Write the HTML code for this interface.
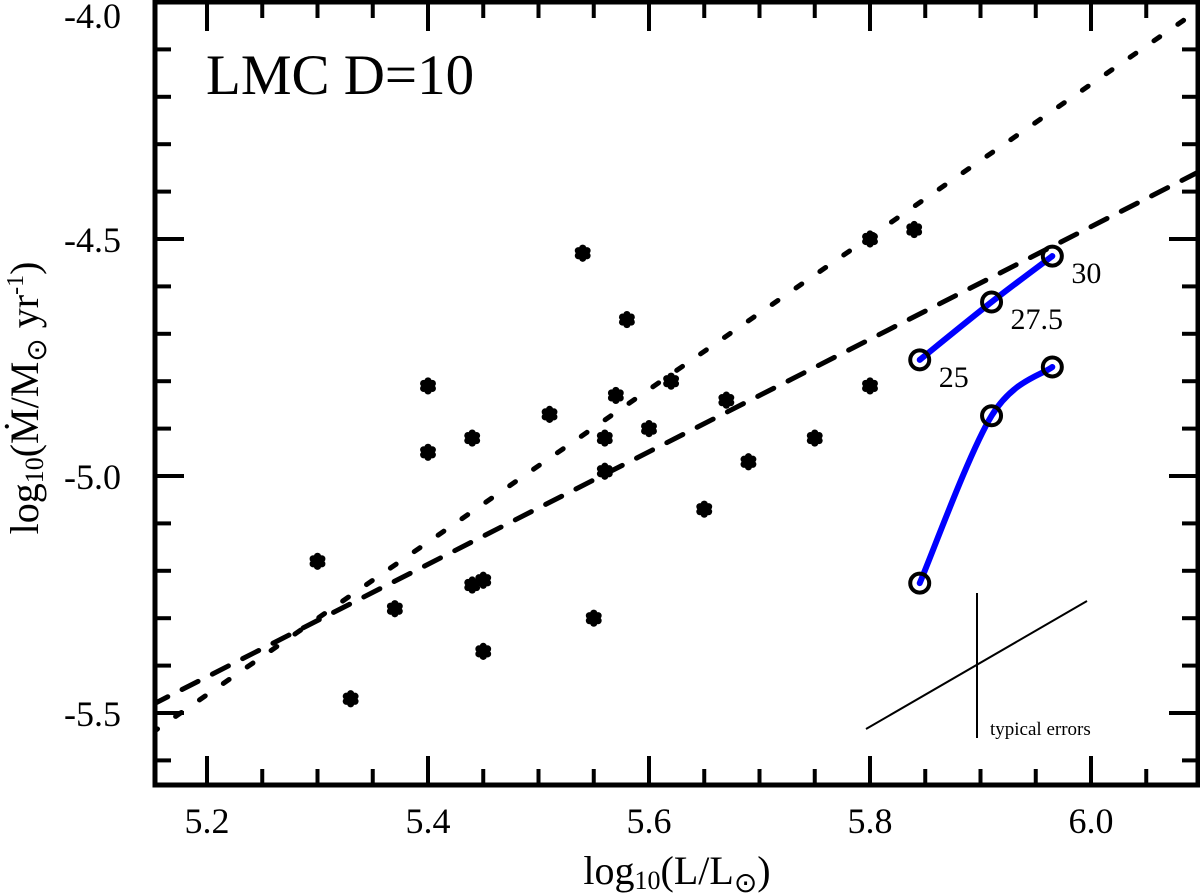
<!DOCTYPE html>
<html><head><meta charset="utf-8"><style>
html,body{margin:0;padding:0;background:#fff;}
svg{display:block;font-family:"Liberation Serif",serif;}
</style></head><body>
<svg id="c" width="1200" height="894" viewBox="0 0 1200 894"></svg>
<script>
const xTicks=[5.2,5.4,5.6,5.8,6.0];
const xTickLabels=["5.2","5.4","5.6","5.8","6.0"];
const yTicks=[-4.0,-4.5,-5.0,-5.5];
const yTickLabels=["-4.0","-4.5","-5.0","-5.5"];
const starL=[5.30,5.33,5.37,5.40,5.40,5.44,5.44,5.45,5.45,5.51,5.54,5.55,5.56,5.56,5.57,5.58,5.60,5.62,5.65,5.67,5.69,5.75,5.80,5.80,5.84];
const starM=[-5.18,-5.47,-5.28,-4.81,-4.95,-4.92,-5.23,-5.22,-5.37,-4.87,-4.53,-5.30,-4.92,-4.99,-4.83,-4.67,-4.90,-4.80,-5.07,-4.84,-4.97,-4.92,-4.81,-4.50,-4.48];
const modelL=[5.845,5.91,5.965];
const modelUpper=[-4.755,-4.633,-4.536];
const modelLower=[-5.226,-4.873,-4.770];
const modelLabels=["25","27.5","30"];
const dottedFit=[-5.542,1.61];
const dashedFit=[-5.483,1.187];

const L=155,R=1198,T=2,B=785;
const X=v=>207+(v-5.2)*1105;
const Y=v=>2+(-4.0-v)*474;
const xmin=5.15,xmax=(R-207)/1105+5.2,ymax=-4.0,ymin=-4.0-(B-2)/474;
const svg=document.getElementById('c');
const NS='http://www.w3.org/2000/svg';
function mk(tag,attrs,parent){const e=document.createElementNS(NS,tag);for(const k in attrs)e.setAttribute(k,attrs[k]);(parent||svg).appendChild(e);return e;}

const defs=mk('defs',{});
const cp=mk('clipPath',{id:'clip'},defs);
mk('rect',{x:L,y:T,width:R-L,height:B-T},cp);

function fitLine(f,dash,name){
  const l=mk('line',{x1:X(xmin),y1:Y(f[0]+f[1]*(xmin-5.15)),x2:X(xmax),y2:Y(f[0]+f[1]*(xmax-5.15)),stroke:'#000','stroke-width':5,'stroke-dasharray':dash,'stroke-linecap':'round','clip-path':'url(#clip)'});
  
  
}
fitLine(dottedFit,'7 22','dotted-fit-line');
fitLine(dashedFit,'18 16','dashed-fit-line');

function star(cx,cy){
  const g=mk('g',{});
  
  
  for(let a=0;a<6;a++){const t=a*Math.PI/3+Math.PI/2;mk('circle',{cx:cx+5*Math.cos(t),cy:cy+5*Math.sin(t),r:3.6,fill:'#000'},g);}
  mk('circle',{cx:cx,cy:cy,r:5,fill:'#000'},g);
}
for(let i=0;i<starL.length;i++)star(X(starL[i]),Y(starM[i]));

function curve(ys,name){
  const p=modelL.map((v,i)=>[X(v),Y(ys[i])]);
  let d='M'+p[0][0]+','+p[0][1];
  for(let i=0;i<p.length-1;i++){
    const p0=p[Math.max(0,i-1)],p1=p[i],p2=p[i+1],p3=p[Math.min(p.length-1,i+2)];
    const c1=[p1[0]+(p2[0]-p0[0])/6,p1[1]+(p2[1]-p0[1])/6];
    const c2=[p2[0]-(p3[0]-p1[0])/6,p2[1]-(p3[1]-p1[1])/6];
    d+=` C${c1[0]},${c1[1]} ${c2[0]},${c2[1]} ${p2[0]},${p2[1]}`;
  }
  const path=mk('path',{d:d,fill:'none',stroke:'#0000ff','stroke-width':6,'stroke-linecap':'round'});
  
  
  p.forEach(q=>{const c=mk('circle',{cx:q[0],cy:q[1],r:9.5,fill:'none',stroke:'#000','stroke-width':4});
    
    });
}
curve(modelUpper,'model-curve-upper');
curve(modelLower,'model-curve-lower');
modelLabels.forEach((s,i)=>{const t=mk('text',{x:X(modelL[i])+19,y:Y(modelUpper[i])+27,'font-size':30});t.textContent=s;
  
  });

const te=mk('g',{});


mk('line',{x1:977,y1:593,x2:977,y2:738,stroke:'#000','stroke-width':2},te);
mk('line',{x1:866,y1:729,x2:1087,y2:601,stroke:'#000','stroke-width':2},te);
const tt=mk('text',{x:990,y:735,'font-size':19},te);tt.textContent='typical errors';

const fr=mk('rect',{x:L,y:T,width:R-L,height:B-T,fill:'none',stroke:'#000','stroke-width':5});



for(let v=5.15;v<=xmax+1e-6;v+=0.05){
  const vv=Math.round(v*100)/100;const major=Math.abs(vv*5-Math.round(vv*5))<1e-6;const len=major?29:16;
  if(X(vv)<=L+2||X(vv)>=R-2)continue;
  mk('line',{x1:X(vv),y1:B,x2:X(vv),y2:B-len,stroke:'#000','stroke-width':4});
  mk('line',{x1:X(vv),y1:T,x2:X(vv),y2:T+len,stroke:'#000','stroke-width':4});
}
for(let k=0;k<=17;k++){
  const vv=-4.0-k*0.1;if(vv<ymin)break;const major=k%5===0;const len=major?29:16;
  if(Y(vv)<=T+2)continue;
  mk('line',{x1:L,y1:Y(vv),x2:L+len,y2:Y(vv),stroke:'#000','stroke-width':4});
  mk('line',{x1:R,y1:Y(vv),x2:R-len,y2:Y(vv),stroke:'#000','stroke-width':4});
}
xTicks.forEach((v,i)=>{const t=mk('text',{x:X(v),y:B+48,'font-size':36,'text-anchor':'middle'});t.textContent=xTickLabels[i];
  
  });
yTicks.forEach((v,i)=>{const t=mk('text',{x:121,y:Math.max(Y(v)+13,28),'font-size':36,'text-anchor':'end'});t.textContent=yTickLabels[i];
  
  });

const title=mk('text',{x:206,y:94,'font-size':57});title.textContent='LMC D=10';


const xt=mk('text',{x:677,y:884,'font-size':40,'text-anchor':'middle'});
xt.innerHTML='log<tspan font-size="26" dy="5">10</tspan><tspan dy="-5">(L/L</tspan><tspan font-size="28" dy="8">⊙</tspan><tspan dy="-8">)</tspan>';


const yt=mk('text',{x:0,y:0,'font-size':40,'text-anchor':'middle',transform:'translate(38,398) rotate(-90)'});
yt.innerHTML='log<tspan font-size="26" dy="5">10</tspan><tspan dy="-5">(Ṁ/M</tspan><tspan font-size="28" dy="8">⊙</tspan><tspan dy="-8"> yr</tspan><tspan font-size="24" dy="-15">-1</tspan><tspan dy="15">)</tspan>';


</script>
</body></html>
